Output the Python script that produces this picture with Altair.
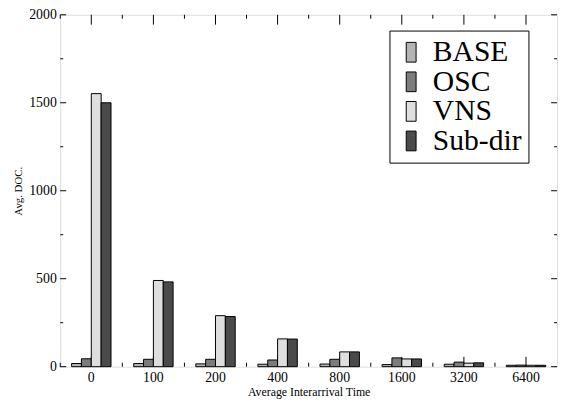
import altair as alt
import pandas as pd

categories = ["0", "100", "200", "400", "800", "1600", "3200", "6400"]
series = ["BASE", "OSC", "VNS", "Sub-dir"]
base = [18, 18, 16, 14, 15, 12, 14, 8]
osc = [45, 42, 42, 38, 42, 50, 26, 9]
vns = [1552, 490, 290, 158, 84, 44, 20, 8]
subdir = [1500, 482, 285, 157, 84, 44, 22, 8]
colors = ["#b4b4b4", "#7c7c7c", "#dedede", "#4a4a4a"]
y_major = [0, 500, 1000, 1500, 2000]
y_minor = [250, 750, 1250, 1750]

W, H = 504, 357
FONT = "Liberation Serif"

rows = []
for s, vals in zip(series, [base, osc, vns, subdir]):
    for c, v in zip(categories, vals):
        rows.append({"cat": c, "series": s, "value": v})
df = pd.DataFrame(rows)
cat_df = pd.DataFrame({"cat": categories})
ymaj_df = pd.DataFrame({"value": y_major})
ymin_df = pd.DataFrame({"value": y_minor})

x_scale = alt.Scale(domain=categories, paddingInner=0, paddingOuter=0)
y_scale = alt.Scale(domain=[0, 2000], nice=False)
x_axis = alt.Axis(labelAngle=0, ticks=False, domain=False, grid=False,
                  labelFont=FONT, labelFontSize=14, labelPadding=4,
                  titleFont=FONT, titleFontSize=12, titleFontWeight="normal",
                  titlePadding=2, labelColor="black", titleColor="black")
y_axis = alt.Axis(values=y_major, format="d", ticks=False, domain=False, grid=False,
                  labelFont=FONT, labelFontSize=14, labelPadding=4,
                  titleFont=FONT, titleFontSize=11, titleFontWeight="normal",
                  titlePadding=5, labelColor="black", titleColor="black")

X = alt.X("cat:N", scale=x_scale, axis=x_axis, title="Average Interarrival Time", sort=categories)
Y = alt.Y("value:Q", scale=y_scale, axis=y_axis, title="Avg. DOC.")

bars = alt.Chart(df).mark_bar(stroke="black", strokeWidth=1).encode(
    x=X,
    xOffset=alt.XOffset("series:N", sort=series,
                        scale=alt.Scale(domain=series, range=[11.5, 51.5],
                                        paddingInner=0, paddingOuter=0)),
    y=Y,
    fill=alt.Fill("series:N", sort=series,
                  scale=alt.Scale(domain=series, range=colors),
                  legend=alt.Legend(
                      title=None, orient="none", legendX=334, legendY=16,
                      fillColor="white", strokeColor="black", padding=7,
                      labelFont=FONT, labelFontSize=30, labelColor="black",
                      labelOffset=7, labelLimit=300, rowPadding=-4,
                      symbolType="M-0.5,-1H0.5V1H-0.5Z", symbolSize=400,
                      symbolStrokeColor="black", symbolStrokeWidth=1,
                      symbolOpacity=1)),
)

def yticks(d, x0, x1):
    return alt.Chart(d).mark_rule(color="black", strokeWidth=1).encode(
        y=Y, x=alt.value(x0), x2=alt.value(x1))

def xticks(bandpos, y0, y1):
    return alt.Chart(cat_df).mark_rule(color="black", strokeWidth=1).encode(
        x=alt.X("cat:N", scale=x_scale, axis=x_axis, title="Average Interarrival Time",
                sort=categories, bandPosition=bandpos),
        y=alt.value(y0), y2=alt.value(y1))

layers = [
    yticks(ymaj_df, 0, 6), yticks(ymaj_df, W - 6, W),
    yticks(ymin_df, 0, 3), yticks(ymin_df, W - 3, W),
    xticks(0.5, H, H - 10), xticks(0.5, 0, 10),
    xticks(0, H, H - 4), xticks(0, 0, 4),
    bars,
]

chart = alt.layer(*layers).properties(
    width=W, height=H,
    autosize=alt.AutoSizeParams(type="none"),
    padding={"left": 53, "top": 4, "right": 3, "bottom": 37},
).configure_view(stroke="black", strokeWidth=1).configure(
    background="white", font=FONT
).configure_axis(labelFont=FONT, titleFont=FONT)

chart.save("out.html", embed_options={"renderer": "svg", "actions": False})
